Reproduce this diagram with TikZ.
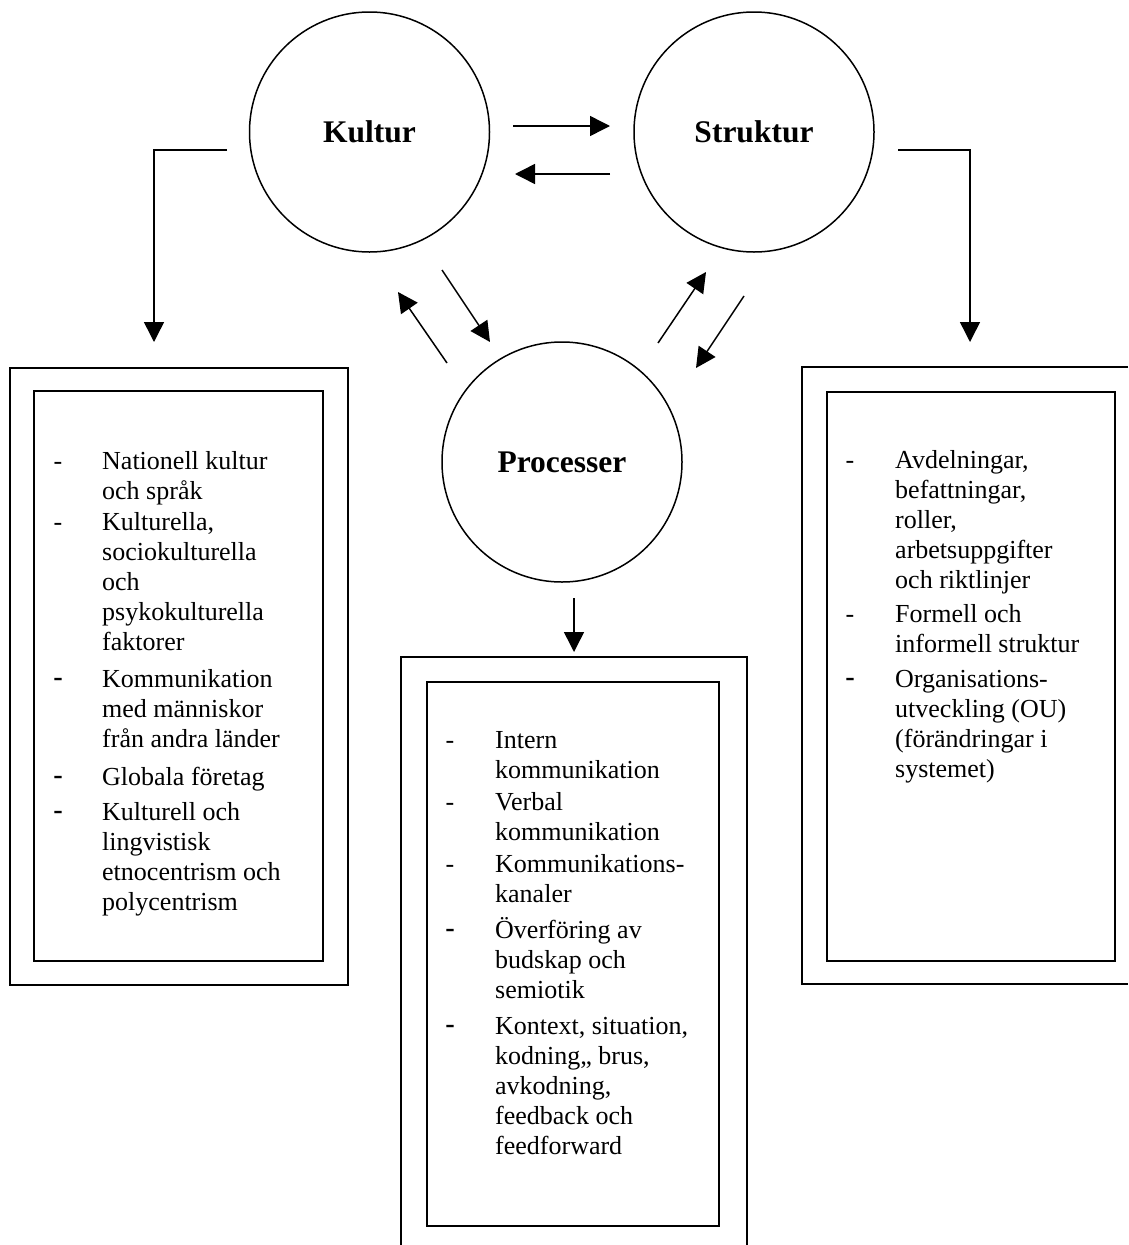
\documentclass[tikz,border=0pt]{standalone}
\usepackage{fontspec}
\setmainfont{Liberation Serif}
\newfontfamily\dashsans{Liberation Sans}
\usetikzlibrary{arrows.meta}
\newcommand\bodyfont{\fontsize{26}{30}\selectfont}
\newcommand\bigdash{\fontsize{30}{30}\selectfont\dashsans}
% #1 name, #2 dash x, #3 text x, #4 first baseline, #5 dash font, #6 text
\newcommand\entry[6]{%
  \node[dashlbl] (#1d) at (#2,#4) {#5-};
  \node[itemtext] (#1) at (#3,#4-24) {\rule{0pt}{24pt}#6};
}
\begin{document}
\begin{tikzpicture}[x=1pt,y=-1pt,
  circ/.style={circle,draw,line width=1.5pt,minimum size=240pt,inner sep=0pt,
               font=\fontsize{31.5}{36}\selectfont\bfseries},
  conn/.style={line width=1.5pt,-{Triangle[length=20pt,width=20pt]}},
  boxline/.style={draw,line width=2pt,inner sep=0pt,anchor=north west},
  itemtext/.style={anchor=north west,inner sep=0pt,align=left,font=\bodyfont},
  dashlbl/.style={anchor=base,inner sep=0pt,font=\bodyfont}]
\useasboundingbox (0,0) rectangle (1128,1245);

% circles
\node[circ] (kultur) at (369.5,132) {Kultur};
\node[circ] (struktur) at (754,132) {Struktur};
\node[circ] (proc) at (562,462) {Processer};

% arrow end points
\coordinate (ks1) at (513,126);  \coordinate (ks2) at (610,126);
\coordinate (sk1) at (610,174);  \coordinate (sk2) at (515,174);
\coordinate (kp1) at (442,270);  \coordinate (kp2) at (490,342);
\coordinate (pk1) at (447,363);  \coordinate (pk2) at (398,292);
\coordinate (ps1) at (658,343);  \coordinate (ps2) at (706,272);
\coordinate (sp1) at (744,296);  \coordinate (sp2) at (696,368);
\coordinate (kl1) at (227,150);  \coordinate (kl2) at (154,342);
\coordinate (sr1) at (898,150);  \coordinate (sr2) at (970,342);
\coordinate (pd1) at (574,598);  \coordinate (pd2) at (574,652);

\draw[conn] (ks1) -- (ks2);
\draw[conn] (sk1) -- (sk2);
\draw[conn] (kp1) -- (kp2);
\draw[conn] (pk1) -- (pk2);
\draw[conn] (ps1) -- (ps2);
\draw[conn] (sp1) -- (sp2);
\draw[conn] (kl1) -| (kl2);
\draw[conn] (sr1) -| (sr2);
\draw[conn] (pd1) -- (pd2);

% boxes
\node[boxline,minimum width=338pt,minimum height=617pt] (lout) at (9,367) {};
\node[boxline,minimum width=289pt,minimum height=570pt] (lin) at (33,390) {};
\draw[line width=2pt] (1128,367) -- (802,367) -- (802,984) -- (1128,984);
\node[boxline,minimum width=288pt,minimum height=569pt] (rin) at (826,391) {};
\draw[line width=2pt] (401,1245) -- (401,657) -- (747,657) -- (747,1245);
\node[boxline,minimum width=292pt,minimum height=544pt] (min) at (426,681) {};

% left box text
\entry{l1}{58}{102}{469}{}{Nationell kultur\\och språk}
\entry{l2}{58}{102}{530}{}{Kulturella,\\sociokulturella\\och\\psykokulturella\\faktorer}
\entry{l3}{58}{102}{687}{\bigdash}{Kommunikation\\med människor\\från andra länder}
\entry{l4}{58}{102}{785}{\bigdash}{Globala företag}
\entry{l5}{58}{102}{820}{\bigdash}{Kulturell och\\lingvistisk\\etnocentrism och\\polycentrism}

% right box text
\entry{r1}{850}{895}{468}{}{Avdelningar,\\befattningar,\\roller,\\arbetsuppgifter\\och riktlinjer}
\entry{r2}{850}{895}{622}{}{Formell och\\informell struktur}
\entry{r3}{850}{895}{687}{\bigdash}{Organisations-\\utveckling (OU)\\(förändringar i\\systemet)}

% middle box text
\entry{m1}{450}{495}{748}{}{Intern\\kommunikation}
\entry{m2}{450}{495}{810}{}{Verbal\\kommunikation}
\entry{m3}{450}{495}{872}{}{Kommunikations-\\kanaler}
\entry{m4}{450}{495}{938}{\bigdash}{Överföring av\\budskap och\\semiotik}
\entry{m5}{450}{495}{1034}{\bigdash}{Kontext, situation,\\kodning,, brus,\\avkodning,\\feedback och\\feedforward}
\end{tikzpicture}
\end{document}
